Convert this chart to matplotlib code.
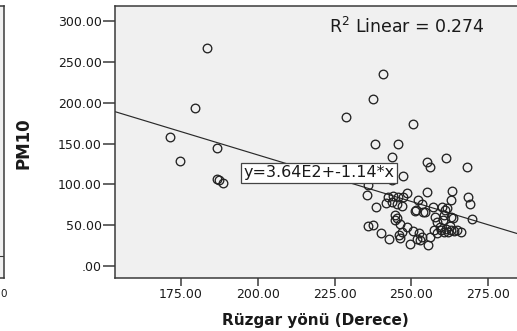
#!/usr/bin/env python3
# PM10 vs wind direction scatter with linear fit

import numpy as np
import matplotlib
matplotlib.use("Agg")
from matplotlib import pyplot as plt

# wind direction (degrees) and PM10 readings
wind_dir = [171.4, 174.7, 179.6, 183.4, 186.6, 186.8, 187.5, 188.6,
            228.7, 237.6, 240.7, 250.4, 238.3, 245.6, 243.8, 255.2, 256.1,
            261.3, 268.0, 247.3, 243.6, 236.0,
            235.6, 242.5, 244.1, 245.7, 247.2, 243.6, 245.2, 246.8, 241.7,
            248.5, 238.5, 255.0, 252.3, 253.4, 251.5, 254.4, 257.1, 259.9,
            261.7, 263.1, 262.8, 268.5, 269.1, 269.6, 257.7, 260.6, 262.8,
            258.2, 245.2, 246.3, 248.5, 244.7, 251.2, 253.9, 260.9, 260.4,
            263.7, 244.7,
            236.0, 237.4, 240.0, 242.8, 246.1, 249.5, 246.8, 250.6, 252.6,
            253.4, 255.5, 251.7, 256.1, 259.3, 262.6, 246.3, 252.8,
            257.5, 258.5, 259.5, 260.5, 261.2, 262.0, 263.0, 264.0, 265.0,
            266.0]
pm10 = [158.0, 128.0, 194.0, 267.0, 144.5, 106.5, 105.3, 101.2,
        182.0, 205.0, 235.0, 174.0, 150.0, 150.0, 133.5, 127.0, 121.0,
        131.7, 121.2, 110.0, 105.3, 99.2,
        87.0, 84.1, 86.1, 84.9, 84.1, 78.7, 75.9, 73.5, 77.5,
        89.0, 72.6, 91.0, 80.8, 75.9, 68.6, 65.7, 72.6, 71.8,
        70.6, 92.2, 80.8, 84.1, 75.5, 57.1, 60.4, 62.4, 59.6,
        54.3, 58.4, 51.4, 48.1, 62.4, 67.3, 66.5, 68.0, 56.3,
        58.4, 56.3,
        49.0, 50.2, 40.0, 32.7, 38.0, 26.5, 42.0, 43.2, 40.0,
        35.9, 25.7, 32.7, 35.1, 48.1, 49.0, 33.9, 31.8,
        44.0, 41.0, 44.5, 42.0, 45.0, 41.5, 44.0, 42.5, 44.5,
        42.0]

# fitted line as reported
intercept = 3.64e2
slope = -1.14
r_squared = 0.274

xticks = [175, 200, 225, 250, 275]
xtick_labels = ["175.00", "200.00", "225.00", "250.00", "275.00"]
yticks = [0, 50, 100, 150, 200, 250, 300]
ytick_labels = [".00", "50.00", "100.00", "150.00", "200.00", "250.00", "300.00"]

plt.rcParams.update({"font.family": "DejaVu Sans"})

W, H = 517, 331
fig = plt.figure(figsize=(W / 100, H / 100), dpi=100)
frame_col = "#3a3a3a"
text_col = "#1a1a1a"

# edge of the neighbouring panel
ax0 = fig.add_axes([-60 / W, 53 / H, 64 / W, 272 / H])
ax0.set_facecolor("#f0f0f0")
ax0.set_xticks([])
ax0.set_yticks([])
ax0.spines["left"].set_visible(False)
for s in ("right", "bottom", "top"):
    ax0.spines[s].set_color(frame_col)
    ax0.spines[s].set_linewidth(1.1)
ax0.axhline(0.081, color=frame_col, lw=0.8)
ax0.set_ylim(0, 1)
fig.text(0.5 / W, 1 - 294 / H, "0", ha="left", va="center",
         fontsize=7.5, color=text_col)

ax = fig.add_axes([115 / W, 53 / H, 410 / W, 272 / H])
ax.set_facecolor("#f0f0f0")
ax.set_xlim(153.5, 287.0)
ax.set_ylim(-14.7, 318.4)

xs = np.array(ax.get_xlim())
ax.plot(xs, intercept + slope * xs, color="#2a2a2a", lw=0.85, zorder=2)
ax.plot(wind_dir, pm10, "o", mfc="none", mec="#222222", ms=6.2, mew=0.95,
        zorder=3)

ax.set_xticks(xticks)
ax.set_xticklabels(xtick_labels)
ax.set_yticks(yticks)
ax.set_yticklabels(ytick_labels)
ax.tick_params(axis="x", direction="out", length=5.5, width=1.1,
               color=frame_col, labelsize=9, labelcolor=text_col, pad=2)
ax.tick_params(axis="y", direction="out", length=8.5, width=1.1,
               color=frame_col, labelsize=9, labelcolor=text_col, pad=1)
for s in ax.spines.values():
    s.set_color(frame_col)
    s.set_linewidth(1.1)

ax.set_xlabel("Rüzgar yönü (Derece)", fontsize=11, fontweight="bold",
              color=text_col)
ax.xaxis.set_label_coords(0.488, -0.127)
ax.set_ylabel("PM10", fontsize=12, fontweight="bold", color=text_col)
ax.yaxis.set_label_coords(-0.2, 0.496)

ax.text(0.712, 0.9007, "R$^2$ Linear = %.3f" % r_squared,
        transform=ax.transAxes, ha="center", va="baseline",
        fontsize=12.5, color=text_col)

eq = "y=%.2fE2+%.2f*x" % (intercept / 100, slope)
ax.text(219.9, 113.9, eq, ha="center", va="center",
        fontsize=11.5, color=text_col, zorder=4,
        bbox=dict(boxstyle="square,pad=0.15", fc="white", ec="#444444",
                  lw=0.9))

fig.savefig("out.png", dpi=100)
